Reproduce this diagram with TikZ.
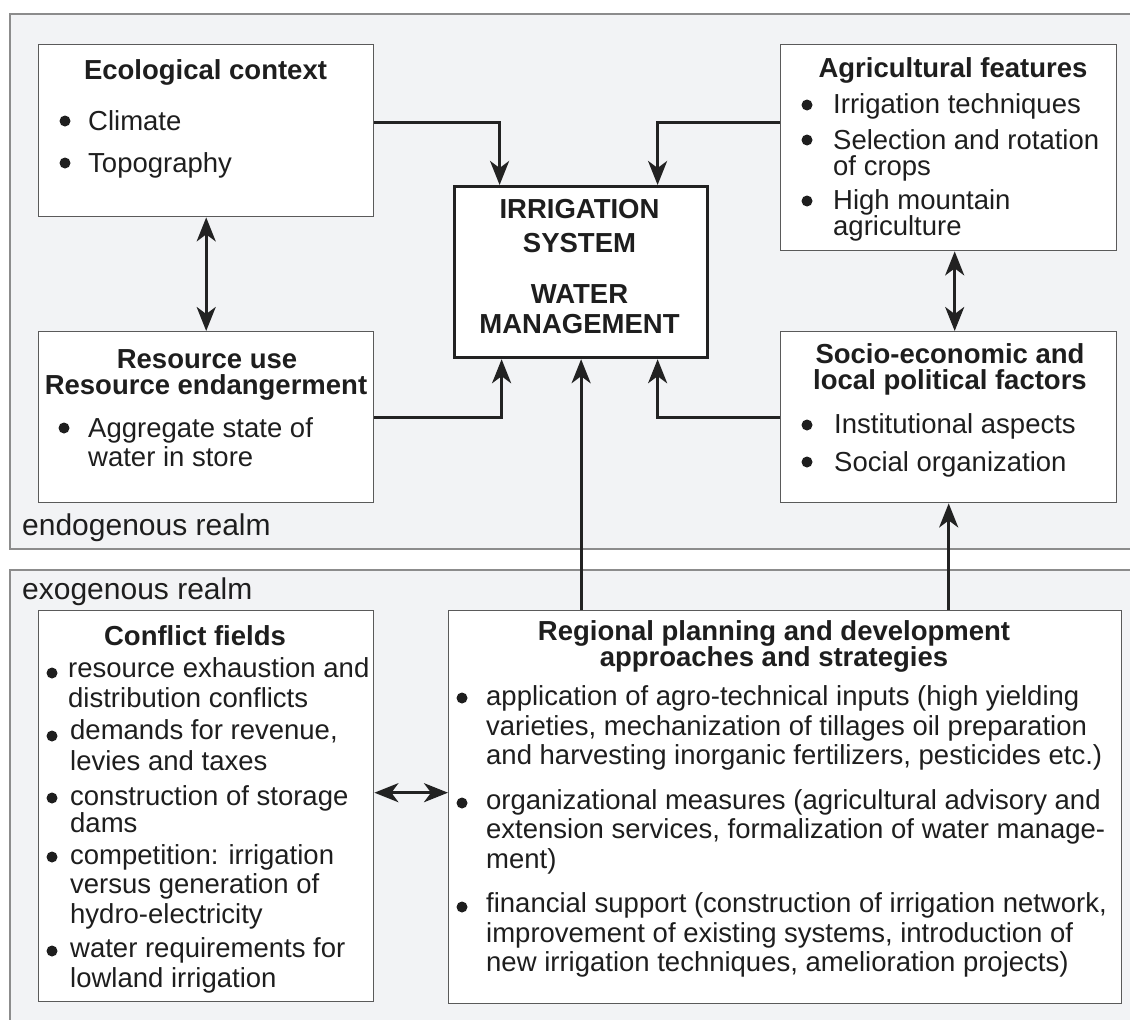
\documentclass[tikz,border=0pt]{standalone}
\usepackage{fontspec}
\setmainfont{Liberation Sans}
\usetikzlibrary{arrows.meta}
\definecolor{bgc}{HTML}{F2F3F5}
\definecolor{realmc}{HTML}{8C8C8C}
\definecolor{boxc}{HTML}{5A5A5A}
\definecolor{linec}{HTML}{222222}
\definecolor{txtc}{HTML}{1E1E1E}
\newcommand\myfs{\fontsize{27.5}{30}\selectfont}
\newcommand\myrfs{\fontsize{30}{34}\selectfont}
\begin{document}
\begin{tikzpicture}[x=1pt,y=-1pt,
  realm/.style={draw=realmc, line width=1.6pt, fill=bgc},
  box/.style={draw=boxc, line width=1.4pt, fill=white, anchor=north west, inner sep=0},
  ctrbox/.style={draw=linec, line width=3.2pt, fill=white, anchor=north west, inner sep=0},
  conn/.style={draw=linec, line width=3.2pt, -{Stealth[length=24pt,width=19pt,inset=7pt]}},
  twoway/.style={draw=linec, line width=2.8pt, {Stealth[length=24pt,width=19pt,inset=7pt]}-{Stealth[length=24pt,width=19pt,inset=7pt]}},
  lt/.style={anchor=base west, inner sep=0, font=\myfs, text=txtc},
  tt/.style={anchor=base, inner sep=0, font=\myfs\bfseries, text=txtc},
  realmlbl/.style={anchor=base west, inner sep=0, font=\myrfs, text=txtc},
  dot/.style={circle, fill=txtc, inner sep=0, minimum size=11pt}]
\useasboundingbox (0,0) rectangle (1130,1020);
\clip (0,0) rectangle (1130,1020);
\fill[white] (0,0) rectangle (1130,1020);
% realms
\draw[realm] (10,14) rectangle (1150,549);
\draw[realm] (10,570) rectangle (1150,1040);
\node[realmlbl] (endo) at (22,535) {endogenous realm};
\node[realmlbl] (exo) at (22,599) {exogenous realm};
% boxes
\node[box, minimum width=335pt, minimum height=172pt] (eco) at (38,44) {};
\node[box, minimum width=335pt, minimum height=171pt] (res) at (38,331) {};
\node[box, minimum width=336pt, minimum height=206pt] (agr) at (780,44) {};
\node[box, minimum width=336pt, minimum height=171pt] (soc) at (780,331) {};
\node[ctrbox, minimum width=253pt, minimum height=171pt] (ctr) at (453,185) {};
\node[box, minimum width=335pt, minimum height=391pt] (con) at (38,610) {};
\node[box, minimum width=673pt, minimum height=393pt] (reg) at (448,610) {};
% ecological context
\node[tt] (ecoT) at (205.5,79) {Ecological context};
\node[dot] (ecoB1) at (65,121) {};
\node[lt] (ecoL1) at (88,130) {Climate};
\node[dot] (ecoB2) at (65,163) {};
\node[lt] (ecoL2) at (88,172) {Topography};
% resource
\node[tt] (resT1) at (207,368) {Resource use};
\node[tt] (resT2) at (206,394) {Resource endangerment};
\node[dot] (resB1) at (64,428) {};
\node[lt] (resL1) at (88,437) {Aggregate state of};
\node[lt] (resL2) at (88,466) {water in store};
% agricultural
\node[tt] (agrT) at (953,77) {Agricultural features};
\node[dot] (agrB1) at (807,105) {};
\node[lt] (agrL1) at (833,113) {Irrigation techniques};
\node[dot] (agrB2) at (807,140) {};
\node[lt] (agrL2) at (833,149) {Selection and rotation};
\node[lt] (agrL3) at (833,175) {of crops};
\node[dot] (agrB3) at (807,201) {};
\node[lt] (agrL4) at (833,209) {High mountain};
\node[lt] (agrL5) at (833,235) {agriculture};
% socio
\node[tt] (socT1) at (950,363) {Socio-economic and};
\node[tt] (socT2) at (950,389) {local political factors};
\node[dot] (socB1) at (807,425) {};
\node[lt] (socL1) at (834,433) {Institutional aspects};
\node[dot] (socB2) at (807,462) {};
\node[lt] (socL2) at (834,471) {Social organization};
% center
\node[tt] (ctrL1) at (579.5,218) {IRRIGATION};
\node[tt] (ctrL2) at (579.5,252) {SYSTEM};
\node[tt] (ctrL3) at (579.5,303) {WATER};
\node[tt] (ctrL4) at (579.5,333) {MANAGEMENT};
% conflict fields
\node[tt] (conT) at (195,645) {Conflict fields};
\node[dot] (conB1) at (52,673) {};
\node[lt] (conL1) at (68,677) {resource exhaustion and};
\node[lt] (conL2) at (68,707) {distribution conflicts};
\node[dot] (conB2) at (52,736) {};
\node[lt] (conL3) at (70,739) {demands for revenue,};
\node[lt] (conL4) at (70,770) {levies and taxes};
\node[dot] (conB3) at (52,798) {};
\node[lt] (conL5) at (70,805) {construction of storage};
\node[lt] (conL6) at (70,832) {dams};
\node[dot] (conB4) at (52,857) {};
\node[lt] (conL7) at (70,864) {competition: irrigation};
\node[lt] (conL8) at (70,893) {versus generation of};
\node[lt] (conL9) at (70,923) {hydro-electricity};
\node[dot] (conB5) at (52,951) {};
\node[lt] (conL10) at (70,957) {water requirements for};
\node[lt] (conL11) at (70,987) {lowland irrigation};
% regional planning
\node[tt] (regT1) at (774,640) {Regional planning and development};
\node[tt] (regT2) at (774,666) {approaches and strategies};
\node[dot] (regB1) at (462,698) {};
\node[lt] (regL1) at (486,705) {application of agro-technical inputs (high yielding};
\node[lt] (regL2) at (486,735) {varieties, mechanization of tillages oil preparation};
\node[lt] (regL3) at (486,764) {and harvesting inorganic fertilizers, pesticides etc.)};
\node[dot] (regB2) at (462,803) {};
\node[lt] (regL4) at (486,809) {organizational measures (agricultural advisory and};
\node[lt] (regL5) at (486,838) {extension services, formalization of water manage-};
\node[lt] (regL6) at (486,868) {ment)};
\node[dot] (regB3) at (462,907) {};
\node[lt] (regL7) at (486,912) {financial support (construction of irrigation network,};
\node[lt] (regL8) at (486,942) {improvement of existing systems, introduction of};
\node[lt] (regL9) at (486,971) {new irrigation techniques, amelioration projects)};
% connectors
\draw[conn] ([yshift=8pt]eco.east) -| ([xshift=-81.5pt]ctr.north);
\draw[conn] ([yshift=25pt]agr.west) -| ([xshift=76.5pt]ctr.north);
\draw[conn] (res.east) -| ([xshift=-79.5pt]ctr.south);
\draw[conn] (soc.west) -| ([xshift=76.5pt]ctr.south);
\draw[conn] (reg.north -| ctr.south) -- (ctr.south);
\draw[conn] (reg.north -| soc.south) -- (soc.south);
\draw[twoway] (eco.south) -- (res.north);
\draw[twoway] ([xshift=6pt]agr.south) -- ([xshift=6pt]soc.north);
\draw[twoway] ([yshift=13.5pt]con.east) -- ([yshift=13.5pt]con.east -| reg.west);
\end{tikzpicture}
\end{document}
